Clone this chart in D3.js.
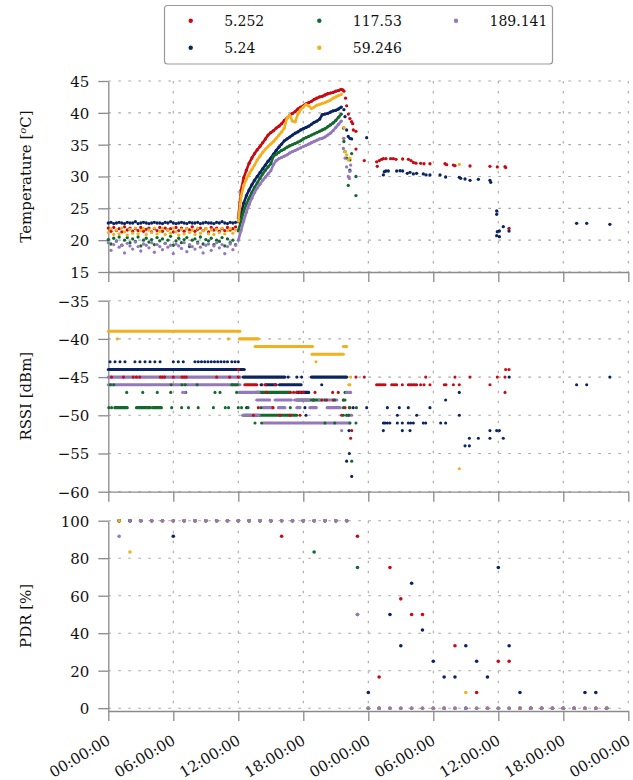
<!DOCTYPE html>
<html><head><meta charset="utf-8">
<script src="https://cdn.jsdelivr.net/npm/d3@7"></script>
<style>
html,body{margin:0;padding:0;background:#fff;}
svg{display:block;font-family:"DejaVu Serif",serif;}
</style></head><body>
<svg id="chart" width="633" height="780"></svg>
<script>
// ---------- DATA ----------
const seriesNames = ["5.252", "5.24", "117.53", "59.246", "189.141"];
const seriesColors = ["#c80a14", "#0a2463", "#14692e", "#f2b01e", "#9478bc"];

const timeTicks = [0, 6, 12, 18, 24, 30, 36, 42, 48];
const timeLabels = ["00:00:00","06:00:00","12:00:00","18:00:00","00:00:00","06:00:00","12:00:00","18:00:00","00:00:00"];
const tempTicks = [15, 20, 25, 30, 35, 40, 45];
const rssiTicks = [-60, -55, -50, -45, -40, -35];
const pdrTicks = [0, 20, 40, 60, 80, 100];

// Temperature, dense logging (one value every 0.25 h starting at 0 h)
const tempStep = 0.25;
const tempRiseStart = 12; // hour when heating starts (dense readings form a continuous trace)
const tempRed = [21.9,21.4,22.0,21.5,21.8,21.3,22.1,21.6,21.9,21.4,21.8,21.5,22.0,21.4,21.7,21.9,21.3,21.8,21.5,22.0,21.4,21.9,21.6,21.8,21.3,22.0,21.5,21.9,21.4,21.8,21.6,22.1,21.4,21.7,21.9,21.5,21.8,21.3,22.0,21.6,21.9,21.4,21.8,21.5,22.0,21.6,21.8,22.1,
 23.5,27.8,29.8,31.0,32.1,32.9,33.6,34.2,34.7,35.3,35.9,36.5,36.9,37.2,37.6,37.9,38.3,38.8,39.2,39.6,39.9,40.2,40.6,40.9,41.1,41.4,41.6,41.8,42.1,42.3,42.5,42.6,42.8,43.0,43.1,43.2,43.4,43.5,43.7];
const tempNavy = [22.7,22.8,22.6,22.7,22.8,22.7,22.6,22.8,22.7,22.7,22.9,22.6,22.7,22.8,22.7,22.6,22.7,22.8,22.7,22.7,22.6,22.8,22.7,22.9,22.7,22.6,22.7,22.8,22.7,22.6,22.8,22.7,22.7,22.8,22.6,22.7,22.8,22.7,22.7,22.6,22.8,22.7,22.9,22.7,22.6,22.8,22.7,22.8,
 22.9,24.2,25.8,27.0,27.9,28.7,29.4,30.0,30.6,31.2,31.8,32.4,32.9,33.5,34.1,34.6,35.1,35.6,35.9,36.2,36.5,36.8,37.0,37.3,37.5,37.7,37.9,38.2,38.5,38.7,39.0,39.7,39.8,39.9,40.1,40.3,40.4,40.6,40.9];
const tempGreen = [20.1,19.4,20.3,19.9,20.5,19.2,20.0,20.4,19.6,20.2,19.8,20.5,19.1,20.0,20.3,19.7,20.1,19.3,20.4,19.9,20.2,19.5,20.0,20.6,19.2,19.9,20.3,19.6,20.1,20.4,19.0,20.0,20.2,19.7,20.5,19.4,20.1,19.9,20.3,19.3,20.0,19.8,20.4,19.1,20.2,19.6,20.0,19.3,
 21.5,23.0,24.5,25.7,26.6,27.5,28.3,29.0,29.7,30.4,31.0,31.5,32.0,33.2,33.5,33.8,34.1,34.3,34.6,34.8,35.0,35.2,35.4,35.6,35.9,36.1,36.3,36.5,36.7,36.9,37.1,37.3,37.5,37.8,38.1,38.4,38.8,39.3,39.8];
const tempYellow = [21.2,21.8,20.9,21.6,21.0,21.9,21.3,20.8,21.7,21.1,21.9,21.0,21.5,21.8,20.9,21.6,21.2,21.9,21.0,21.4,21.8,20.9,21.6,21.1,21.9,21.3,20.8,21.7,21.0,21.8,21.2,21.6,20.9,21.9,21.1,21.5,21.8,21.0,21.6,20.9,21.7,21.2,21.9,21.0,21.5,21.8,21.1,21.6,
 23.0,26.8,28.6,29.6,30.4,31.1,31.8,32.6,33.2,33.8,34.3,34.7,35.1,35.5,36.0,36.5,37.0,37.6,39.2,39.6,38.7,38.6,39.8,40.5,40.9,41.3,41.1,40.7,40.9,41.2,41.3,41.5,41.6,41.8,42.0,42.3,42.5,42.7,42.9];
const tempPurple = [19.6,18.4,19.3,19.8,18.9,19.2,18.0,19.5,19.1,18.6,19.7,19.0,18.3,19.4,19.2,18.8,19.6,18.1,19.3,19.0,18.5,19.5,18.9,19.2,17.9,19.4,19.1,18.7,19.6,18.2,19.3,19.0,18.6,19.5,18.9,18.0,19.2,19.4,18.4,19.1,19.6,18.8,19.3,17.9,19.0,19.4,18.5,19.2,
 20.0,21.5,23.0,24.4,25.6,26.6,27.5,28.2,28.8,29.4,29.9,30.4,30.9,31.9,32.5,32.8,33.0,33.2,33.4,33.7,33.9,34.1,34.3,34.5,34.7,34.9,35.1,35.3,35.5,35.7,35.9,36.0,36.2,36.5,36.8,37.2,37.7,38.2,38.7];

// Temperature, sparse readings after the peak [hour, °C]
const tempRedLate = [[21.65,43.6],[21.75,43.4],[21.9,42.3],[22.0,41.1],[22.16,39.8],[22.3,39.1],[22.46,38.6],[22.56,38.3],[22.62,37.3],[22.86,37.1],[22.86,34.3],[23.63,32.5],[24.77,32.3],[24.83,31.6],[25.02,32.5],[25.23,32.7],[25.39,32.8],[25.63,32.8],[26.06,32.8],[26.31,32.8],[26.56,32.7],[27.17,32.75],[27.7,32.7],[27.94,32.5],[28.16,32.2],[28.4,32.1],[28.83,32.07],[29.14,32.0],[29.69,32.0],[31.08,32.0],[31.23,31.86],[31.85,31.8],[32.0,31.7],[33.39,31.65],[35.23,31.6],[35.91,31.5],[36.62,31.55],[36.68,31.4],[36.99,21.86]];
const tempNavyLate = [[21.75,40.5],[21.85,39.4],[22.0,37.3],[22.15,36.3],[22.3,36.0],[22.46,35.9],[23.85,36.1],[25.39,30.24],[25.48,30.76],[25.63,30.86],[25.85,30.86],[26.62,30.86],[26.93,30.9],[27.17,30.86],[27.6,30.5],[27.85,30.65],[28.16,30.4],[28.46,30.5],[29.08,30.4],[29.33,30.24],[29.69,30.24],[30.62,30.24],[31.14,29.92],[32.4,29.87],[32.53,29.71],[32.93,29.61],[33.39,29.4],[34.16,29.55],[35.23,29.4],[35.3,29.08],[35.85,24.58],[35.85,24.06],[35.91,21.33],[35.85,20.7],[36.1,20.55],[36.1,21.44],[36.46,22.12],[36.99,21.44],[43.23,22.64],[44.16,22.64],[46.3,22.49]];
const tempGreenLate = [[21.7,37.6],[21.75,35.5],[21.85,33.9],[22.0,32.9],[22.15,28.6],[22.3,32.6],[22.3,31.0],[22.46,33.6],[22.86,30.0],[22.86,27.0]];
const tempYellowLate = [[21.7,36.0],[21.75,37.7],[21.85,33.9],[22.0,33.4],[22.15,32.6],[22.3,32.9],[32.4,31.9]];
const tempPurpleLate = [[21.7,34.4],[21.75,36.0],[21.85,32.9],[22.0,31.5],[22.15,30.0],[22.25,29.7],[22.3,30.8],[22.37,31.8]];

// RSSI: continuous runs [fromHour, toHour, dBm] and single readings [dBm, [hours]]
const rssiRunsRed = [[12.6,13.7,-46]];
const rssiPtsRed = [[-45,[0.3,1.4,2.3,2.6,2.9,4.8,5.0,5.2,6.0,6.8,7.0,7.2,10.0,11.2,12.0,22.86,23.63,29.3,32.0,33.39,35.91,36.62]],
 [-44,[12.0,36.68,36.99]],
 [-46,[14.2,14.5,15.4,24.77,24.93,25.08,25.23,25.39,25.54,26.16,26.31,26.47,26.62,27.14,27.7,27.85,28.0,28.16,28.3,28.46,28.83,29.14,29.69,31.02,31.17,31.85,32.4,35.23]],
 [-47,[14.6,16.8,17.1,17.4,17.7,18.0,19.08,20.71,21.23,36.62]],
 [-48,[18.93,19.7,20.15,20.77,21.7]],
 [-49,[13.85,15.2,21.85,22.3]],
 [-50,[13.4,15.85,16.77,17.7,21.54]],
 [-52,[22.47]],[-53,[22.37]]];
const rssiRunsNavy = [[0,12.55,-44],[12.45,16.3,-45],[18.75,22.0,-45],[14.5,15.5,-46],[15.8,17.8,-46],[17.4,18.5,-47]];
const rssiPtsNavy = [[-43,[0.16,0.62,1.08,1.54,2.46,2.92,3.39,3.85,4.3,4.78,6.0,6.46,6.92,8.0,8.3,8.6,8.9,9.2,9.5,9.8,10.1,10.4,10.7,11.0,11.4,11.7,12.0]],
 [-45,[16.6,17.4,17.85,37.0,46.3]],
 [-46,[14.1,19.7,43.23,44.16]],
 [-47,[32.4]],[-48,[31.14]],
 [-49,[12.77,18.15,22.6,23.85,25.76,26.86,27.69,29.69]],
 [-50,[18.25,26.68,28.47,32.4]],
 [-51,[25.39,25.54,25.76,25.99,26.68,27.14,27.69,27.91,28.16,29.08,29.3,30.68,31.14]],
 [-52,[22.22,25.39,27.14,27.85,35.23,35.85,36.1]],
 [-53,[33.33,34.16,35.23,36.46]],
 [-54,[32.93,33.33]],[-55,[22.25]],[-56,[22.0]],[-58,[22.47]]];
const rssiRunsGreen = [[0.6,1.75,-49],[2.6,3.9,-49],[4.1,4.9,-49],[13.7,16.8,-47],[12.5,17.4,-50],[17.4,19.5,-48]];
const rssiPtsGreen = [[-46,[0.2,0.5,5.8,6.8,7.1,8.2,11.4,11.5,11.7,11.9]],
 [-47,[1.7,3.18,4.52,5.76,7.15,9.85,10.31,11.85,21.85,22.0,22.3]],
 [-48,[18.93,20.0,20.9,21.7,21.85]],
 [-49,[0.05,0.3,5.85,6.77,7.4,8.3,9.7,10.8,11.1,12.0,12.3,12.9,14.1,16.8,21.7,22.25,22.9]],
 [-50,[21.7,22.0,22.2]],
 [-51,[13.54,14.15,20.0,20.9,22.3,22.86]],
 [-56,[22.47]]];
const rssiRunsYellow = [[0,12.15,-39],[12.1,13.85,-40],[13.55,18.85,-41],[18.8,21.7,-42],[21.7,22.0,-41]];
const rssiPtsYellow = [[-40,[0.83,11.08]],[-43,[19.17]],[-45,[22.37]],[-46,[22.2,22.3]],[-57,[32.4]]];
const rssiRunsPurple = [[0,12.2,-45],[0,12.15,-46],[12.1,13.9,-47],[12.4,13.9,-50],[14.3,22.3,-51],
 [13.7,14.9,-48],[15.4,16.9,-48],[17.2,18.5,-48],[19.5,21.1,-48],
 [14.3,15.2,-49],[15.7,16.3,-49],[17.4,17.7,-49],[18.6,19.2,-49],[20.2,21.4,-49],[22.0,22.47,-50]];
const rssiPtsPurple = [[-47,[6.87,7.08,22.0,22.2,22.37]],[-52,[21.54]]];

// PDR [%] per hour, hours 1 .. 46
const pdrFirstHour = 1;
const pdrRed = [100,100,100,100,100,100,100,100,100,100,100,100,100,100,100,91.67,100,100,100,100,100,100,
 91.67,0,16.67,75,58.33,50,50,0,0,33.33,0,8.33,0,25,25,0,0,0,0,0,0,0,0,0];
const pdrNavy = [100,100,100,100,100,91.67,100,100,100,100,100,100,100,100,100,100,100,100,100,100,100,100,
 50,8.33,0,50,33.33,66.67,41.67,25,16.67,16.67,33.33,25,16.67,75,33.33,8.33,0,0,0,0,0,8.33,8.33,0];
const pdrGreen = [100,100,100,100,100,100,100,100,100,100,100,100,100,100,100,100,100,100,83.33,100,100,100,
 75,0,0,0,0,0,0,0,0,0,0,0,0,0,0,0,0,0,0,0,0,0,0,0];
const pdrYellow = [100,83.33,100,100,100,100,100,100,100,100,100,100,100,100,100,100,100,100,100,100,100,100,
 50,0,0,0,0,0,0,0,0,0,8.33,0,0,0,0,0,0,0,0,0,0,0,0,0];
const pdrPurple = [91.67,100,100,100,100,100,100,100,100,100,100,100,100,100,100,100,100,100,100,100,100,100,
 50,0,0,0,0,0,0,0,0,0,0,0,0,0,0,0,0,0,0,0,0,0,0,0];

// ---------- BUILD ----------
const series = [
 {temp: tempRed, late: tempRedLate, runs: rssiRunsRed, pts: rssiPtsRed, pdr: pdrRed},
 {temp: tempNavy, late: tempNavyLate, runs: rssiRunsNavy, pts: rssiPtsNavy, pdr: pdrNavy},
 {temp: tempGreen, late: tempGreenLate, runs: rssiRunsGreen, pts: rssiPtsGreen, pdr: pdrGreen},
 {temp: tempYellow, late: tempYellowLate, runs: rssiRunsYellow, pts: rssiPtsYellow, pdr: pdrYellow},
 {temp: tempPurple, late: tempPurpleLate, runs: rssiRunsPurple, pts: rssiPtsPurple, pdr: pdrPurple}
].map((s, i) => Object.assign(s, {name: seriesNames[i], color: seriesColors[i]}));

const svg = d3.select("#chart");
const axisColor = "#8a8a8a";
const gridColor = "#a6a6a6";
const x = d3.scaleLinear().domain([0, 48]).range([108.3, 628.3]);

const yTemp = d3.scaleLinear().domain([15, 45]).range([272, 81]);
const yRssi = d3.scaleLinear().domain([-60, -35]).range([491.7, 300.7]);
const yPdr = d3.scaleLinear().domain([-1.5, 100]).range([711, 520.7]);

const panels = [
 {y: yTemp, ticks: tempTicks, title: "temp"},
 {y: yRssi, ticks: rssiTicks, title: "RSSI [dBm]"},
 {y: yPdr, ticks: pdrTicks, title: "PDR [%]"}
];

panels.forEach((p, pi) => {
  const [yb, yt] = p.y.range();
  const g = svg.append("g");
  // grid
  g.selectAll("line.hg").data(p.ticks).join("line")
    .attr("x1", x(0)).attr("x2", x(48))
    .attr("y1", d => p.y(d)).attr("y2", d => p.y(d))
    .attr("stroke", gridColor).attr("stroke-width", 1.1).attr("stroke-dasharray", "2.6,7.4");
  g.selectAll("line.vg").data(timeTicks.slice(1)).join("line")
    .attr("x1", d => x(d)).attr("x2", d => x(d))
    .attr("y1", yt).attr("y2", yb)
    .attr("stroke", gridColor).attr("stroke-width", 1.1).attr("stroke-dasharray", "2.6,7.4");

  // axes
  const ya = d3.axisLeft(p.y).tickValues(p.ticks).tickSize(10).tickSizeOuter(0).tickPadding(9);
  const yg = g.append("g").attr("transform", `translate(${x(0)},0)`).call(ya);
  const xa = d3.axisBottom(x).tickValues(timeTicks).tickSize(10).tickSizeOuter(0)
    .tickFormat((d, i) => pi === 2 ? timeLabels[i] : "");
  const xg = g.append("g").attr("transform", `translate(0,${yb})`).call(xa);
  [yg, xg].forEach(a => {
    a.attr("font-family", null).attr("font-size", null);
    a.select(".domain").attr("stroke", axisColor).attr("stroke-width", 1.3);
    a.selectAll(".tick line").attr("stroke", axisColor).attr("stroke-width", 1.3);
    a.selectAll("text").attr("fill", "#111").style("font-family", "'DejaVu Serif', serif").style("font-size", "15px");
  });
  yg.selectAll("text").attr("dy", "0.36em");
  if (pi === 2) {
    xg.selectAll(".tick text")
      .attr("text-anchor", "end")
      .attr("y", null).attr("dy", null)
      .attr("transform", "translate(0,28) rotate(-31)")
      .attr("dominant-baseline", "central");
  }

  // title
  const cy = (yb + yt) / 2;
  const t = svg.append("text")
    .attr("transform", `translate(26,${cy}) rotate(-90)`)
    .attr("text-anchor", "middle").attr("dominant-baseline", "central")
    .style("font-size", "15px").attr("fill", "#111");
  if (p.title === "temp") {
    t.append("tspan").text("Temperature [");
    t.append("tspan").text("o").style("font-size", "10px").style("font-style", "italic").attr("dy", "-0.45em");
    t.append("tspan").text("C]").attr("dy", "0.3em");
  } else {
    t.text(p.title);
  }
});

// ---------- TEMPERATURE ----------
const gT = svg.append("g");
series.forEach(s => {
  const dense = s.temp.map((v, i) => [i * tempStep, v]);
  const rise = dense.filter(d => d[0] >= tempRiseStart);
  gT.append("path").datum(rise)
    .attr("d", d3.line().x(d => x(d[0])).y(d => yTemp(d[1])))
    .attr("fill", "none").attr("stroke", s.color).attr("stroke-width", 2.6)
    .attr("stroke-linejoin", "round").attr("stroke-linecap", "round");
  const pts = dense.concat(s.late);
  gT.append("g").selectAll("circle").data(pts).join("circle")
    .attr("cx", d => x(d[0])).attr("cy", d => yTemp(d[1])).attr("r", 1.65).attr("fill", s.color);
});

// ---------- RSSI ----------
const gR = svg.append("g");
series.forEach(s => {
  gR.append("g").selectAll("line").data(s.runs).join("line")
    .attr("x1", d => x(d[0])).attr("x2", d => x(d[1]))
    .attr("y1", d => yRssi(d[2])).attr("y2", d => yRssi(d[2]))
    .attr("stroke", s.color).attr("stroke-width", 3.1).attr("stroke-linecap", "round");
});
series.forEach(s => {
  const pts = s.pts.flatMap(([lvl, hs]) => hs.map(h => [h, lvl]));
  gR.append("g").selectAll("circle").data(pts).join("circle")
    .attr("cx", d => x(d[0])).attr("cy", d => yRssi(d[1])).attr("r", 1.55).attr("fill", s.color);
});

// ---------- PDR ----------
const gP = svg.append("g");
series.forEach(s => {
  gP.append("g").selectAll("circle").data(s.pdr.map((v, i) => [i + pdrFirstHour, v])).join("circle")
    .attr("cx", d => x(d[0])).attr("cy", d => yPdr(d[1])).attr("r", 1.8).attr("fill", s.color);
});

// ---------- LEGEND ----------
const lg = svg.append("g");
lg.append("rect").attr("x", 164.5).attr("y", 5.5).attr("width", 388).attr("height", 58.5)
  .attr("rx", 3).attr("fill", "#fff").attr("stroke", "#999").attr("stroke-width", 1.2);
const legendOrder = [0, 2, 4, 1, 3]; // row-major display of column-major entries
const colX = [190.7, 319.3, 456];
const rowY = [20.7, 47.7];
legendOrder.forEach((si, k) => {
  const cx = colX[k % 3], cy = rowY[Math.floor(k / 3)];
  lg.append("circle").attr("cx", cx).attr("cy", cy).attr("r", 2.2).attr("fill", series[si].color);
  lg.append("text").attr("x", cx + 33.5).attr("y", cy).attr("dominant-baseline", "central")
    .style("font-size", "14px").attr("fill", "#111").text(series[si].name);
});
</script></body></html>
